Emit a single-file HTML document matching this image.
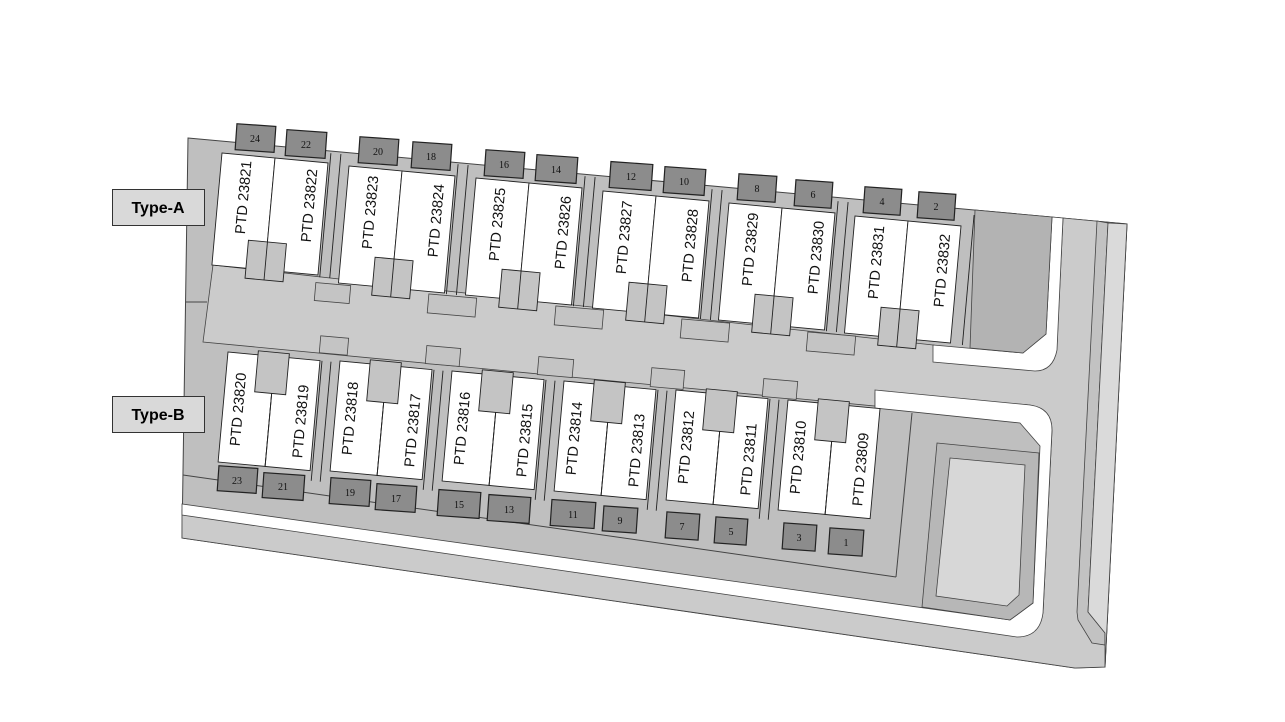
<!DOCTYPE html>
<html><head><meta charset="utf-8"><style>
html,body{margin:0;padding:0;background:#fff}
svg{display:block}
.t{font-family:"Liberation Sans",Arial,sans-serif;font-size:14.5px;fill:#111}
.n{font-family:"Liberation Serif",serif;font-size:10px;fill:#111}
.L{font-family:"Liberation Sans",Arial,sans-serif;font-size:16px;font-weight:bold;fill:#000}
</style></head><body>
<svg width="1285" height="722" viewBox="0 0 1285 722" xmlns="http://www.w3.org/2000/svg">
<rect width="1285" height="722" fill="#fff"/>
<polygon points="188,138 1127,224 1105,667 1075,668 182,538" fill="#bfbfbf" stroke="#444" stroke-width="1"/>
<polygon points="213,265 933,345 1035,363 1057,345 1063,218 1127,224 1105,667 1075,668 182,538 182,510 1014,636 1043,613 1052,430 1030,405 875,393 875,406 203,342" fill="#cbcbcb" stroke="#444" stroke-width="0.8"/>
<line x1="186" y1="302" x2="207" y2="302" stroke="#444"/>
<polygon points="1097,221 1108,223 1088,612 1105,633 1105,645 1092,643 1078,620 1077,612" fill="#c2c2c2" stroke="#444" stroke-width="0.8"/>
<polygon points="1108,223 1127,224 1105,667 1105,633 1088,612" fill="#dadada" stroke="#444" stroke-width="0.8"/>
<path d="M933,345 L1023,353 L1046,334 L1052,217 L1063,218 L1057,350 Q1053,371 1035,371 L933,362 Z" fill="#fff" stroke="#444" stroke-width="0.8"/>
<polygon points="975,210 1052,217 1046,334 1023,353 970,348" fill="#b3b3b3" stroke="#444" stroke-width="0.8"/>
<path d="M875,390 L1030,405 Q1052,408 1052,430 L1043,613 Q1040,637 1017,637 L182,515 L182,504 L1010,620 L1033,603 L1040,446 L1020,423 L875,408 Z" fill="#fff" stroke="#444" stroke-width="0.8"/>
<polygon points="937,443 1039,453 1033,603 1010,620 922,607" fill="#b7b7b7" stroke="#444" stroke-width="0.8"/>
<polygon points="950,458 1025,465 1019,595 1007,606 936,596" fill="#d7d7d7" stroke="#444" stroke-width="0.8"/>
<line x1="912" y1="413" x2="896" y2="577" stroke="#444"/>
<line x1="183" y1="475" x2="896" y2="577" stroke="#444"/>

<g fill="#c4c4c4" stroke="#444" stroke-width="0.8">
<rect x="315" y="284" width="35" height="18" transform="rotate(5 332 293)"/>
<rect x="428" y="296" width="48" height="19" transform="rotate(5 452 305)"/>
<rect x="555" y="308" width="48" height="19" transform="rotate(5 579 317)"/>
<rect x="681" y="321" width="48" height="19" transform="rotate(5 705 330)"/>
<rect x="807" y="334" width="48" height="19" transform="rotate(5 831 343)"/>
<rect x="320" y="337" width="28" height="17" transform="rotate(5 334 345)"/>
<rect x="426" y="347" width="34" height="18" transform="rotate(5 443 356)"/>
<rect x="538" y="358" width="35" height="18" transform="rotate(5 555 367)"/>
<rect x="651" y="369" width="33" height="19" transform="rotate(5 667 378)"/>
<rect x="763" y="380" width="34" height="18" transform="rotate(5 780 389)"/>
</g>

<g stroke="#222" stroke-width="0.9">
<g transform="matrix(1,0.094,-0.09,1,222,153)">
<line x1="108" y1="-10" x2="108" y2="114"/><line x1="118" y1="-10" x2="118" y2="114"/>
<rect x="0" y="0" width="53" height="112" fill="#fff"/><rect x="53" y="0" width="53" height="112" fill="#fff"/>
<rect x="34" y="84" width="38" height="38" fill="#c4c4c4"/><line x1="53" y1="84" x2="53" y2="122"/>
<text class="t" stroke="none" transform="translate(30,42) rotate(-90)" text-anchor="middle">PTD 23821</text>
<text class="t" stroke="none" transform="translate(96,44) rotate(-90)" text-anchor="middle">PTD 23822</text>
</g>
<g transform="matrix(1,0.094,-0.09,1,349,166)">
<line x1="108" y1="-12" x2="108" y2="118"/><line x1="118" y1="-12" x2="118" y2="118"/>
<rect x="0" y="0" width="53" height="117" fill="#fff"/><rect x="53" y="0" width="53" height="117" fill="#fff"/>
<rect x="34" y="88" width="38" height="38" fill="#c4c4c4"/><line x1="53" y1="88" x2="53" y2="126"/>
<text class="t" stroke="none" transform="translate(30,44) rotate(-90)" text-anchor="middle">PTD 23823</text>
<text class="t" stroke="none" transform="translate(96,46) rotate(-90)" text-anchor="middle">PTD 23824</text>
</g>
<g transform="matrix(1,0.094,-0.09,1,476,178)">
<line x1="108" y1="-12" x2="108" y2="118"/><line x1="118" y1="-12" x2="118" y2="118"/>
<rect x="0" y="0" width="53" height="117" fill="#fff"/><rect x="53" y="0" width="53" height="117" fill="#fff"/>
<rect x="34" y="88" width="38" height="38" fill="#c4c4c4"/><line x1="53" y1="88" x2="53" y2="126"/>
<text class="t" stroke="none" transform="translate(30,44) rotate(-90)" text-anchor="middle">PTD 23825</text>
<text class="t" stroke="none" transform="translate(96,46) rotate(-90)" text-anchor="middle">PTD 23826</text>
</g>
<g transform="matrix(1,0.094,-0.09,1,603,191)">
<line x1="108" y1="-12" x2="108" y2="118"/><line x1="118" y1="-12" x2="118" y2="118"/>
<rect x="0" y="0" width="53" height="117" fill="#fff"/><rect x="53" y="0" width="53" height="117" fill="#fff"/>
<rect x="34" y="88" width="38" height="38" fill="#c4c4c4"/><line x1="53" y1="88" x2="53" y2="126"/>
<text class="t" stroke="none" transform="translate(30,44) rotate(-90)" text-anchor="middle">PTD 23827</text>
<text class="t" stroke="none" transform="translate(96,46) rotate(-90)" text-anchor="middle">PTD 23828</text>
</g>
<g transform="matrix(1,0.094,-0.09,1,729,203)">
<line x1="108" y1="-12" x2="108" y2="118"/><line x1="118" y1="-12" x2="118" y2="118"/>
<rect x="0" y="0" width="53" height="117" fill="#fff"/><rect x="53" y="0" width="53" height="117" fill="#fff"/>
<rect x="34" y="88" width="38" height="38" fill="#c4c4c4"/><line x1="53" y1="88" x2="53" y2="126"/>
<text class="t" stroke="none" transform="translate(30,44) rotate(-90)" text-anchor="middle">PTD 23829</text>
<text class="t" stroke="none" transform="translate(96,46) rotate(-90)" text-anchor="middle">PTD 23830</text>
</g>
<g transform="matrix(1,0.094,-0.09,1,855,216)">
<line x1="118" y1="-12" x2="118" y2="118"/>
<rect x="0" y="0" width="53" height="117" fill="#fff"/><rect x="53" y="0" width="53" height="117" fill="#fff"/>
<rect x="34" y="88" width="38" height="38" fill="#c4c4c4"/><line x1="53" y1="88" x2="53" y2="126"/>
<text class="t" stroke="none" transform="translate(30,44) rotate(-90)" text-anchor="middle">PTD 23831</text>
<text class="t" stroke="none" transform="translate(96,46) rotate(-90)" text-anchor="middle">PTD 23832</text>
</g>

<g transform="matrix(1,0.094,-0.09,1,228,352)">
<line x1="94" y1="0" x2="94" y2="120"/><line x1="103" y1="0" x2="103" y2="120"/>
<rect x="0" y="0" width="47" height="110" fill="#fff"/><rect x="47" y="0" width="45" height="110" fill="#fff"/>
<rect x="30" y="-4" width="31" height="41" fill="#c4c4c4"/><line x1="47" y1="37" x2="47" y2="110"/>
<text class="t" stroke="none" transform="translate(20,56) rotate(-90)" text-anchor="middle">PTD 23820</text>
<text class="t" stroke="none" transform="translate(83,62) rotate(-90)" text-anchor="middle">PTD 23819</text>
</g>
<g transform="matrix(1,0.094,-0.09,1,340,361)">
<line x1="94" y1="0" x2="94" y2="120"/><line x1="103" y1="0" x2="103" y2="120"/>
<rect x="0" y="0" width="47" height="110" fill="#fff"/><rect x="47" y="0" width="45" height="110" fill="#fff"/>
<rect x="30" y="-4" width="31" height="41" fill="#c4c4c4"/><line x1="47" y1="37" x2="47" y2="110"/>
<text class="t" stroke="none" transform="translate(20,56) rotate(-90)" text-anchor="middle">PTD 23818</text>
<text class="t" stroke="none" transform="translate(83,62) rotate(-90)" text-anchor="middle">PTD 23817</text>
</g>
<g transform="matrix(1,0.094,-0.09,1,452,371)">
<line x1="94" y1="0" x2="94" y2="120"/><line x1="103" y1="0" x2="103" y2="120"/>
<rect x="0" y="0" width="47" height="110" fill="#fff"/><rect x="47" y="0" width="45" height="110" fill="#fff"/>
<rect x="30" y="-4" width="31" height="41" fill="#c4c4c4"/><line x1="47" y1="37" x2="47" y2="110"/>
<text class="t" stroke="none" transform="translate(20,56) rotate(-90)" text-anchor="middle">PTD 23816</text>
<text class="t" stroke="none" transform="translate(83,62) rotate(-90)" text-anchor="middle">PTD 23815</text>
</g>
<g transform="matrix(1,0.094,-0.09,1,564,381)">
<line x1="94" y1="0" x2="94" y2="120"/><line x1="103" y1="0" x2="103" y2="120"/>
<rect x="0" y="0" width="47" height="110" fill="#fff"/><rect x="47" y="0" width="45" height="110" fill="#fff"/>
<rect x="30" y="-4" width="31" height="41" fill="#c4c4c4"/><line x1="47" y1="37" x2="47" y2="110"/>
<text class="t" stroke="none" transform="translate(20,56) rotate(-90)" text-anchor="middle">PTD 23814</text>
<text class="t" stroke="none" transform="translate(83,62) rotate(-90)" text-anchor="middle">PTD 23813</text>
</g>
<g transform="matrix(1,0.094,-0.09,1,676,390)">
<line x1="94" y1="0" x2="94" y2="120"/><line x1="103" y1="0" x2="103" y2="120"/>
<rect x="0" y="0" width="47" height="110" fill="#fff"/><rect x="47" y="0" width="45" height="110" fill="#fff"/>
<rect x="30" y="-4" width="31" height="41" fill="#c4c4c4"/><line x1="47" y1="37" x2="47" y2="110"/>
<text class="t" stroke="none" transform="translate(20,56) rotate(-90)" text-anchor="middle">PTD 23812</text>
<text class="t" stroke="none" transform="translate(83,62) rotate(-90)" text-anchor="middle">PTD 23811</text>
</g>
<g transform="matrix(1,0.094,-0.09,1,788,400)">
<rect x="0" y="0" width="47" height="110" fill="#fff"/><rect x="47" y="0" width="45" height="110" fill="#fff"/>
<rect x="30" y="-4" width="31" height="41" fill="#c4c4c4"/><line x1="47" y1="37" x2="47" y2="110"/>
<text class="t" stroke="none" transform="translate(20,56) rotate(-90)" text-anchor="middle">PTD 23810</text>
<text class="t" stroke="none" transform="translate(83,62) rotate(-90)" text-anchor="middle">PTD 23809</text>
</g>
</g>

<g fill="#8c8c8c" stroke="#222" stroke-width="1.2">
<rect x="236" y="125" width="39" height="26" transform="rotate(4 255 138)"/>
<rect x="286" y="131" width="40" height="26" transform="rotate(4 306 144)"/>
<rect x="359" y="138" width="39" height="26" transform="rotate(4 378 151)"/>
<rect x="412" y="143" width="39" height="26" transform="rotate(4 431 156)"/>
<rect x="485" y="151" width="39" height="26" transform="rotate(4 504 164)"/>
<rect x="536" y="156" width="41" height="26" transform="rotate(4 556 169)"/>
<rect x="610" y="163" width="42" height="26" transform="rotate(4 631 176)"/>
<rect x="664" y="168" width="41" height="26" transform="rotate(4 684 181)"/>
<rect x="738" y="175" width="38" height="26" transform="rotate(4 757 188)"/>
<rect x="795" y="181" width="37" height="26" transform="rotate(4 813 194)"/>
<rect x="864" y="188" width="37" height="26" transform="rotate(4 882 201)"/>
<rect x="918" y="193" width="37" height="26" transform="rotate(4 936 206)"/>
<rect x="218" y="467" width="39" height="25" transform="rotate(4 237 480)"/>
<rect x="263" y="474" width="41" height="25" transform="rotate(4 283 486)"/>
<rect x="330" y="479" width="40" height="26" transform="rotate(4 350 492)"/>
<rect x="376" y="485" width="40" height="26" transform="rotate(4 396 498)"/>
<rect x="438" y="491" width="42" height="26" transform="rotate(4 459 504)"/>
<rect x="488" y="496" width="42" height="26" transform="rotate(4 509 509)"/>
<rect x="551" y="501" width="44" height="26" transform="rotate(4 573 514)"/>
<rect x="603" y="507" width="34" height="25" transform="rotate(4 620 520)"/>
<rect x="666" y="513" width="33" height="26" transform="rotate(4 682 526)"/>
<rect x="715" y="518" width="32" height="26" transform="rotate(4 731 531)"/>
<rect x="783" y="524" width="33" height="26" transform="rotate(4 799 537)"/>
<rect x="829" y="529" width="34" height="26" transform="rotate(4 846 542)"/>
</g>
<g class="n" text-anchor="middle">
<text x="255" y="142">24</text><text x="306" y="148">22</text><text x="378" y="155">20</text><text x="431" y="160">18</text>
<text x="504" y="168">16</text><text x="556" y="173">14</text><text x="631" y="180">12</text><text x="684" y="185">10</text>
<text x="757" y="192">8</text><text x="813" y="198">6</text><text x="882" y="205">4</text><text x="936" y="210">2</text>
<text x="237" y="484">23</text><text x="283" y="490">21</text><text x="350" y="496">19</text><text x="396" y="502">17</text>
<text x="459" y="508">15</text><text x="509" y="513">13</text><text x="573" y="518">11</text><text x="620" y="524">9</text>
<text x="682" y="530">7</text><text x="731" y="535">5</text><text x="799" y="541">3</text><text x="846" y="546">1</text>
</g>

<rect x="112.5" y="189.5" width="92" height="36" fill="#d9d9d9" stroke="#333"/>
<text class="L" x="158" y="213" text-anchor="middle">Type-A</text>
<rect x="112.5" y="396.5" width="92" height="36" fill="#d9d9d9" stroke="#333"/>
<text class="L" x="158" y="420" text-anchor="middle">Type-B</text>
</svg>
</body></html>
